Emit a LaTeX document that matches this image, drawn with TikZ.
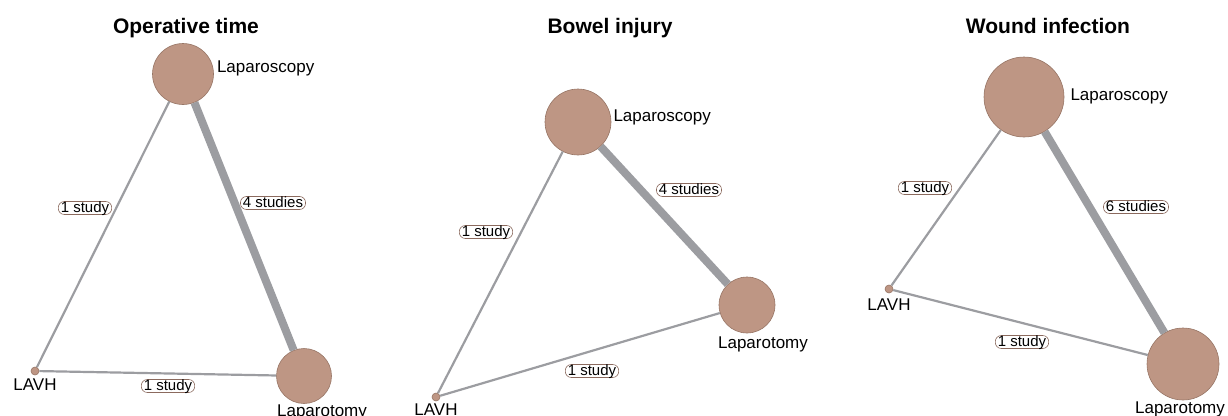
\documentclass[tikz,border=0pt]{standalone}
\usepackage{fontspec}
\setmainfont{Liberation Sans}
\usetikzlibrary{positioning}

\definecolor{trtfill}{HTML}{BE9684}
\definecolor{trtline}{HTML}{977565}
\definecolor{edgegray}{HTML}{9C9DA1}
\definecolor{pillline}{HTML}{8B6A5E}

\begin{document}
\begin{tikzpicture}[
  x=1pt, y=-1pt,
  title/.style={font=\bfseries\fontsize{21}{21}\selectfont, anchor=base},
  trt/.style={circle, draw=trtline, fill=trtfill, line width=0.6pt, inner sep=0pt},
  trtname/.style={font=\fontsize{17}{17}\selectfont, inner sep=1pt},
  studies/.style={draw=pillline, fill=white, line width=0.6pt, rounded corners=6pt,
    font=\fontsize{15}{15}\selectfont, inner xsep=2.5pt, inner ysep=0pt,
    text height=10.5pt, text depth=2.5pt},
  few/.style={draw=edgegray, line width=2.2pt},
  many/.style={draw=edgegray, line width=8pt}
]
\useasboundingbox (0,0) rectangle (1228,415);

% Operative time
\node[title] (titleA) at (186,33) {Operative time};
\node[trt, minimum size=61pt] (lscopA) at (183,74) {};
\node[trt, minimum size=55pt] (ltomyA) at (304,376) {};
\node[trt, minimum size=8pt] (lavhA) at (35,371) {};
\node[trtname, right=2pt of lscopA, yshift=6pt] (lscopAname) {Laparoscopy};
\node[trtname, below=0pt of ltomyA, xshift=18pt] (ltomyAname) {Laparotomy};
\node[trtname, below=2pt of lavhA] (lavhAname) {LAVH};
\draw[many] (lscopA) -- (ltomyA);
\draw[few] (lscopA) -- (lavhA);
\draw[few] (lavhA) -- (ltomyA);
\node[studies] (eA1) at (85,208) {1 study};
\node[studies] (eA2) at (273,203) {4 studies};
\node[studies] (eA3) at (168,386) {1 study};

% Bowel injury
\node[title] (titleB) at (610,33) {Bowel injury};
\node[trt, minimum size=66pt] (lscopB) at (578,122) {};
\node[trt, minimum size=56pt] (ltomyB) at (747,305) {};
\node[trt, minimum size=8pt] (lavhB) at (436,397) {};
\node[trtname, right=1pt of lscopB, yshift=5pt] (lscopBname) {Laparoscopy};
\node[trtname, below=2pt of ltomyB, xshift=16pt] (ltomyBname) {Laparotomy};
\node[trtname, below=1pt of lavhB] (lavhBname) {LAVH};
\draw[many] (lscopB) -- (ltomyB);
\draw[few] (lscopB) -- (lavhB);
\draw[few] (lavhB) -- (ltomyB);
\node[studies] (eB1) at (486,232) {1 study};
\node[studies] (eB2) at (689,190) {4 studies};
\node[studies] (eB3) at (592,371) {1 study};

% Wound infection
\node[title] (titleC) at (1048,33) {Wound infection};
\node[trt, minimum size=80pt] (lscopC) at (1024,97) {};
\node[trt, minimum size=72pt] (ltomyC) at (1183,364) {};
\node[trt, minimum size=8pt] (lavhC) at (889,289) {};
\node[trtname, right=5pt of lscopC, yshift=1pt] (lscopCname) {Laparoscopy};
\node[trtname, below=0pt of ltomyC, xshift=-3pt] (ltomyCname) {Laparotomy};
\node[trtname, below=4pt of lavhC] (lavhCname) {LAVH};
\draw[many] (lscopC) -- (ltomyC);
\draw[few] (lscopC) -- (lavhC);
\draw[few] (lavhC) -- (ltomyC);
\node[studies] (eC1) at (925,188) {1 study};
\node[studies] (eC2) at (1136,207) {6 studies};
\node[studies] (eC3) at (1022,342) {1 study};

\end{tikzpicture}
\end{document}
